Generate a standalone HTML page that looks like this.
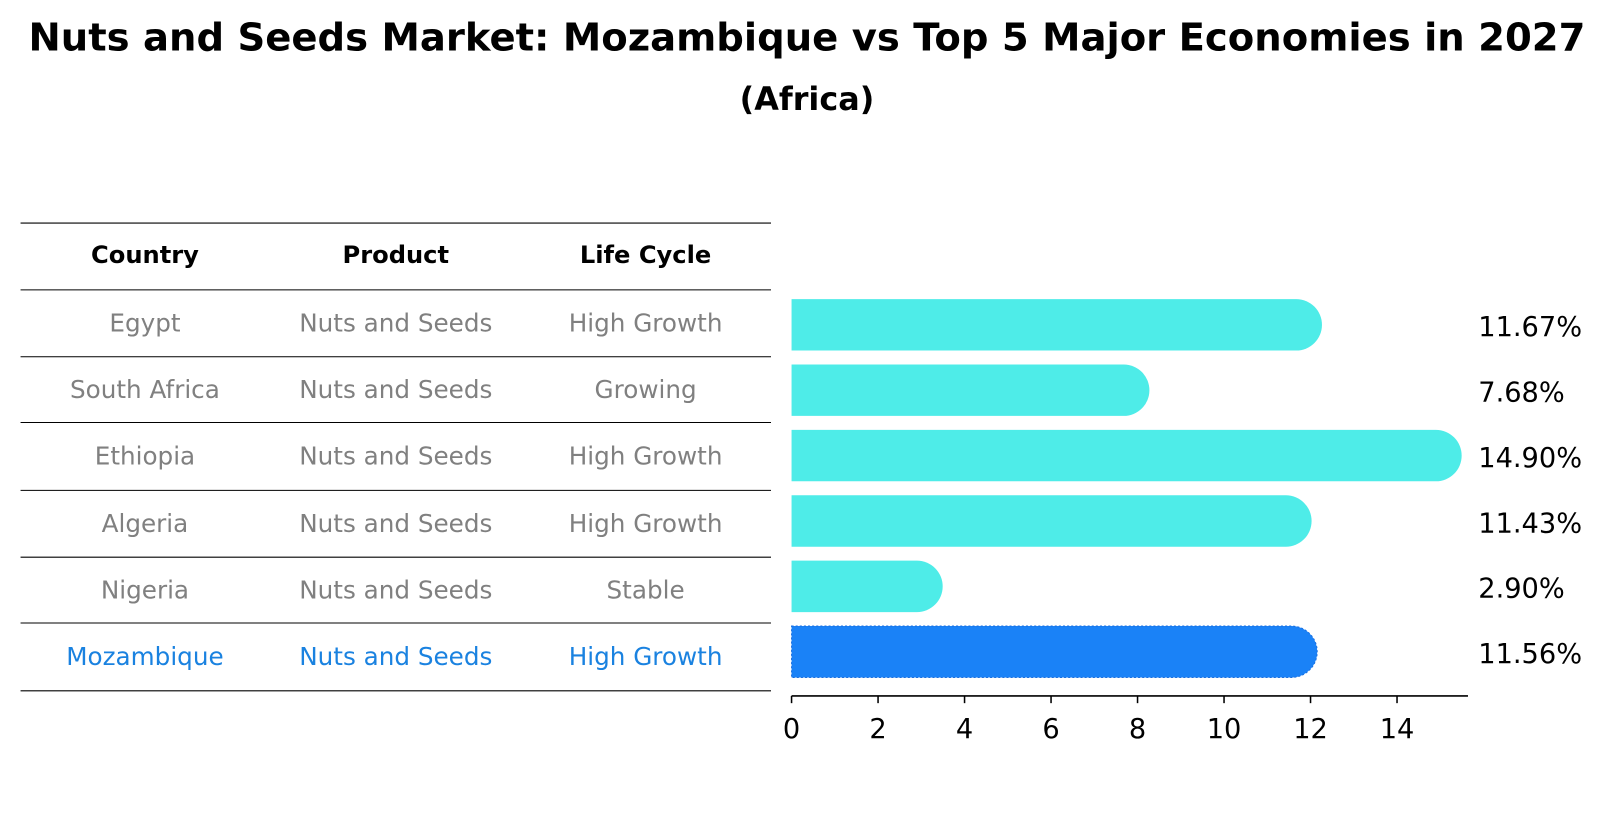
<!DOCTYPE html>
<html><head><meta charset="utf-8"><style>
body{margin:0;background:#fff;}
svg text{font-family:"DejaVu Sans","Liberation Sans",sans-serif;}
</style></head><body>
<svg id="chart" width="1612" height="823" viewBox="0 0 1612 823" xmlns="http://www.w3.org/2000/svg">
<rect width="1612" height="823" fill="#fff"/>
<g transform="scale(1.028)">
<text x="785" y="49" text-anchor="middle" font-size="37.5" font-weight="bold">Nuts and Seeds Market: Mozambique vs Top 5 Major Economies in 2027</text>
<text x="785" y="107" text-anchor="middle" font-size="31" font-weight="bold">(Africa)</text>
<g id="table"></g>
<g id="bars"></g>
</g>
</svg>
<script>
const countries=["Egypt","South Africa","Ethiopia","Algeria","Nigeria","Mozambique"];
const products=["Nuts and Seeds","Nuts and Seeds","Nuts and Seeds","Nuts and Seeds","Nuts and Seeds","Nuts and Seeds"];
const lifeCycles=["High Growth","Growing","High Growth","High Growth","Stable","High Growth"];
const values=[11.67,7.68,14.90,11.43,2.90,11.56];
const ticks=[0,2,4,6,8,10,12,14];
const NS="http://www.w3.org/2000/svg";
function mk(tag,attrs,parent){const e=document.createElementNS(NS,tag);for(const k in attrs)e.setAttribute(k,attrs[k]);parent.appendChild(e);return e;}
const x=v=>770+v*42.07;
const rowY=i=>316+i*63.6;
const tbl=document.getElementById('table');
const lineYs=[217,282,347,411,477,542,606,672];
lineYs.forEach(yy=>{const l=mk('line',{x1:20,x2:750,y1:yy,y2:yy,stroke:'#000','stroke-width':1},tbl);

});
const colX=[141,385,628];
["Country","Product","Life Cycle"].forEach((h,j)=>{const t=mk('text',{x:colX[j],y:256,'text-anchor':'middle','font-size':23.5,'font-weight':'bold'},tbl);t.textContent=h;

});
countries.forEach((c,i)=>{const cy=(lineYs[i+1]+lineYs[i+2])/2+8;const col=i===5?'#1a82e0':'#808080';
[c,products[i],lifeCycles[i]].forEach((s,j)=>{const t=mk('text',{x:colX[j],y:cy,'text-anchor':'middle','font-size':24,fill:col},tbl);t.textContent=s;

});});
const bars=document.getElementById('bars');
const h=50,r=25;
values.forEach((v,i)=>{const cy=rowY(i),y0=cy-h/2,xe=x(v);
const d=`M770,${y0} L${xe},${y0} A${r},${r} 0 0 1 ${xe},${y0+h} L770,${y0+h} Z`;
const p=mk('path',{d:d,fill:i===5?'#1a82f7':'#4eece8'},bars);
if(i===5){p.setAttribute('stroke','#1a6fe0');p.setAttribute('stroke-dasharray','2,2');p.setAttribute('stroke-width','1');}


const t=mk('text',{x:1438,y:cy+11,'font-size':26.5},bars);t.textContent=v.toFixed(2)+'%';

});
const ax=mk('line',{x1:770,x2:1428,y1:677,y2:677,stroke:'#000','stroke-width':1.5},bars);


ticks.forEach(tv=>{const tk=mk('line',{x1:x(tv),x2:x(tv),y1:677,y2:684,stroke:'#000','stroke-width':1.5},bars);


const t=mk('text',{x:x(tv),y:718,'text-anchor':'middle','font-size':26.5},bars);t.textContent=tv;

});
</script>
</body></html>
